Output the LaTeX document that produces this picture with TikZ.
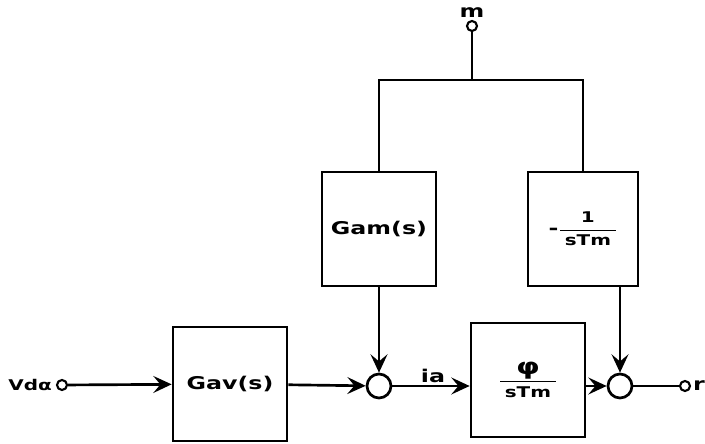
\documentclass[tikz,border=0pt]{standalone}
\usepackage{amsmath}
\usepackage{fontspec}
\newfontfamily\plotfont{DejaVu Sans}[FakeStretch=1.35]
\usepackage{tikz}
\usetikzlibrary{arrows.meta,calc}

\newcommand{\fracsize}{\fontsize{10.5}{12}\selectfont}

\begin{document}
\begin{tikzpicture}[x=0.025cm, y=-0.025cm, line width=1.9pt,
    every node/.style={font=\plotfont\bfseries\fontsize{12.5}{14}\selectfont},
    block/.style={draw, rectangle, line width=1.9pt, minimum width=2.85cm, minimum height=2.85cm, align=center},
    sumnode/.style={draw, circle, line width=1.9pt, minimum size=0.6cm, inner sep=0pt},
    port/.style={draw, circle, line width=1.5pt, minimum size=0.25cm, inner sep=0pt},
    sig/.style={-{Stealth[length=13pt, width=12pt, inset=5pt]}}]
    \useasboundingbox (0,0) rectangle (705,444);

    % forward path
    \node[port] (vin) at (62,385) {};
    \node[anchor=east, inner sep=2pt, font=\plotfont\bfseries\fontsize{10.5}{12}\selectfont] (vinlabel) at (vin.west) {Vdα};
    \node[block] (gav) at (230,384) {Gav(s)};
    \node[sumnode] (sum1) at (379,386) {};
    \node[block] (phi) at (528,380) {$\dfrac{\text{\fontsize{16}{17}\selectfont φ}}{\mkern5mu\text{\fracsize sTm}\mkern5mu}$};
    \node[sumnode] (sum2) at (620,386) {};
    \node[port] (out) at (685,386) {};
    \node[anchor=west, inner sep=0.5pt] (outlabel) at (out.east) {r};

    % upper branches
    \node[port] (min) at (472,26) {};
    \node[anchor=south, inner sep=1pt] (minlabel) at (min.north) {m};
    \coordinate (split) at (472,80);
    \node[block] (gam) at (379,229) {Gam(s)};
    \node[block, minimum width=2.75cm] (neg) at (583,229) {\text{-}$\dfrac{\text{\fracsize 1}}{\mkern5mu\text{\fracsize sTm}\mkern5mu}$};

    \node[inner sep=1pt] (ia) at (433,376) {ia};

    \draw[sig] (vin) -- (gav);
    \draw[sig] (gav) -- (sum1);
    \draw[sig] (sum1) -- (phi.west |- sum1);
    \draw[sig] (phi.east |- sum2) -- (sum2);
    \draw (sum2) -- (out);

    \draw (min) -- (split);
    \draw (split) -| (gam.north);
    \draw (split) -| (neg.north);
    \draw[sig] (gam) -- (sum1);
    \draw[sig] (neg.south -| sum2) -- (sum2);
\end{tikzpicture}
\end{document}
